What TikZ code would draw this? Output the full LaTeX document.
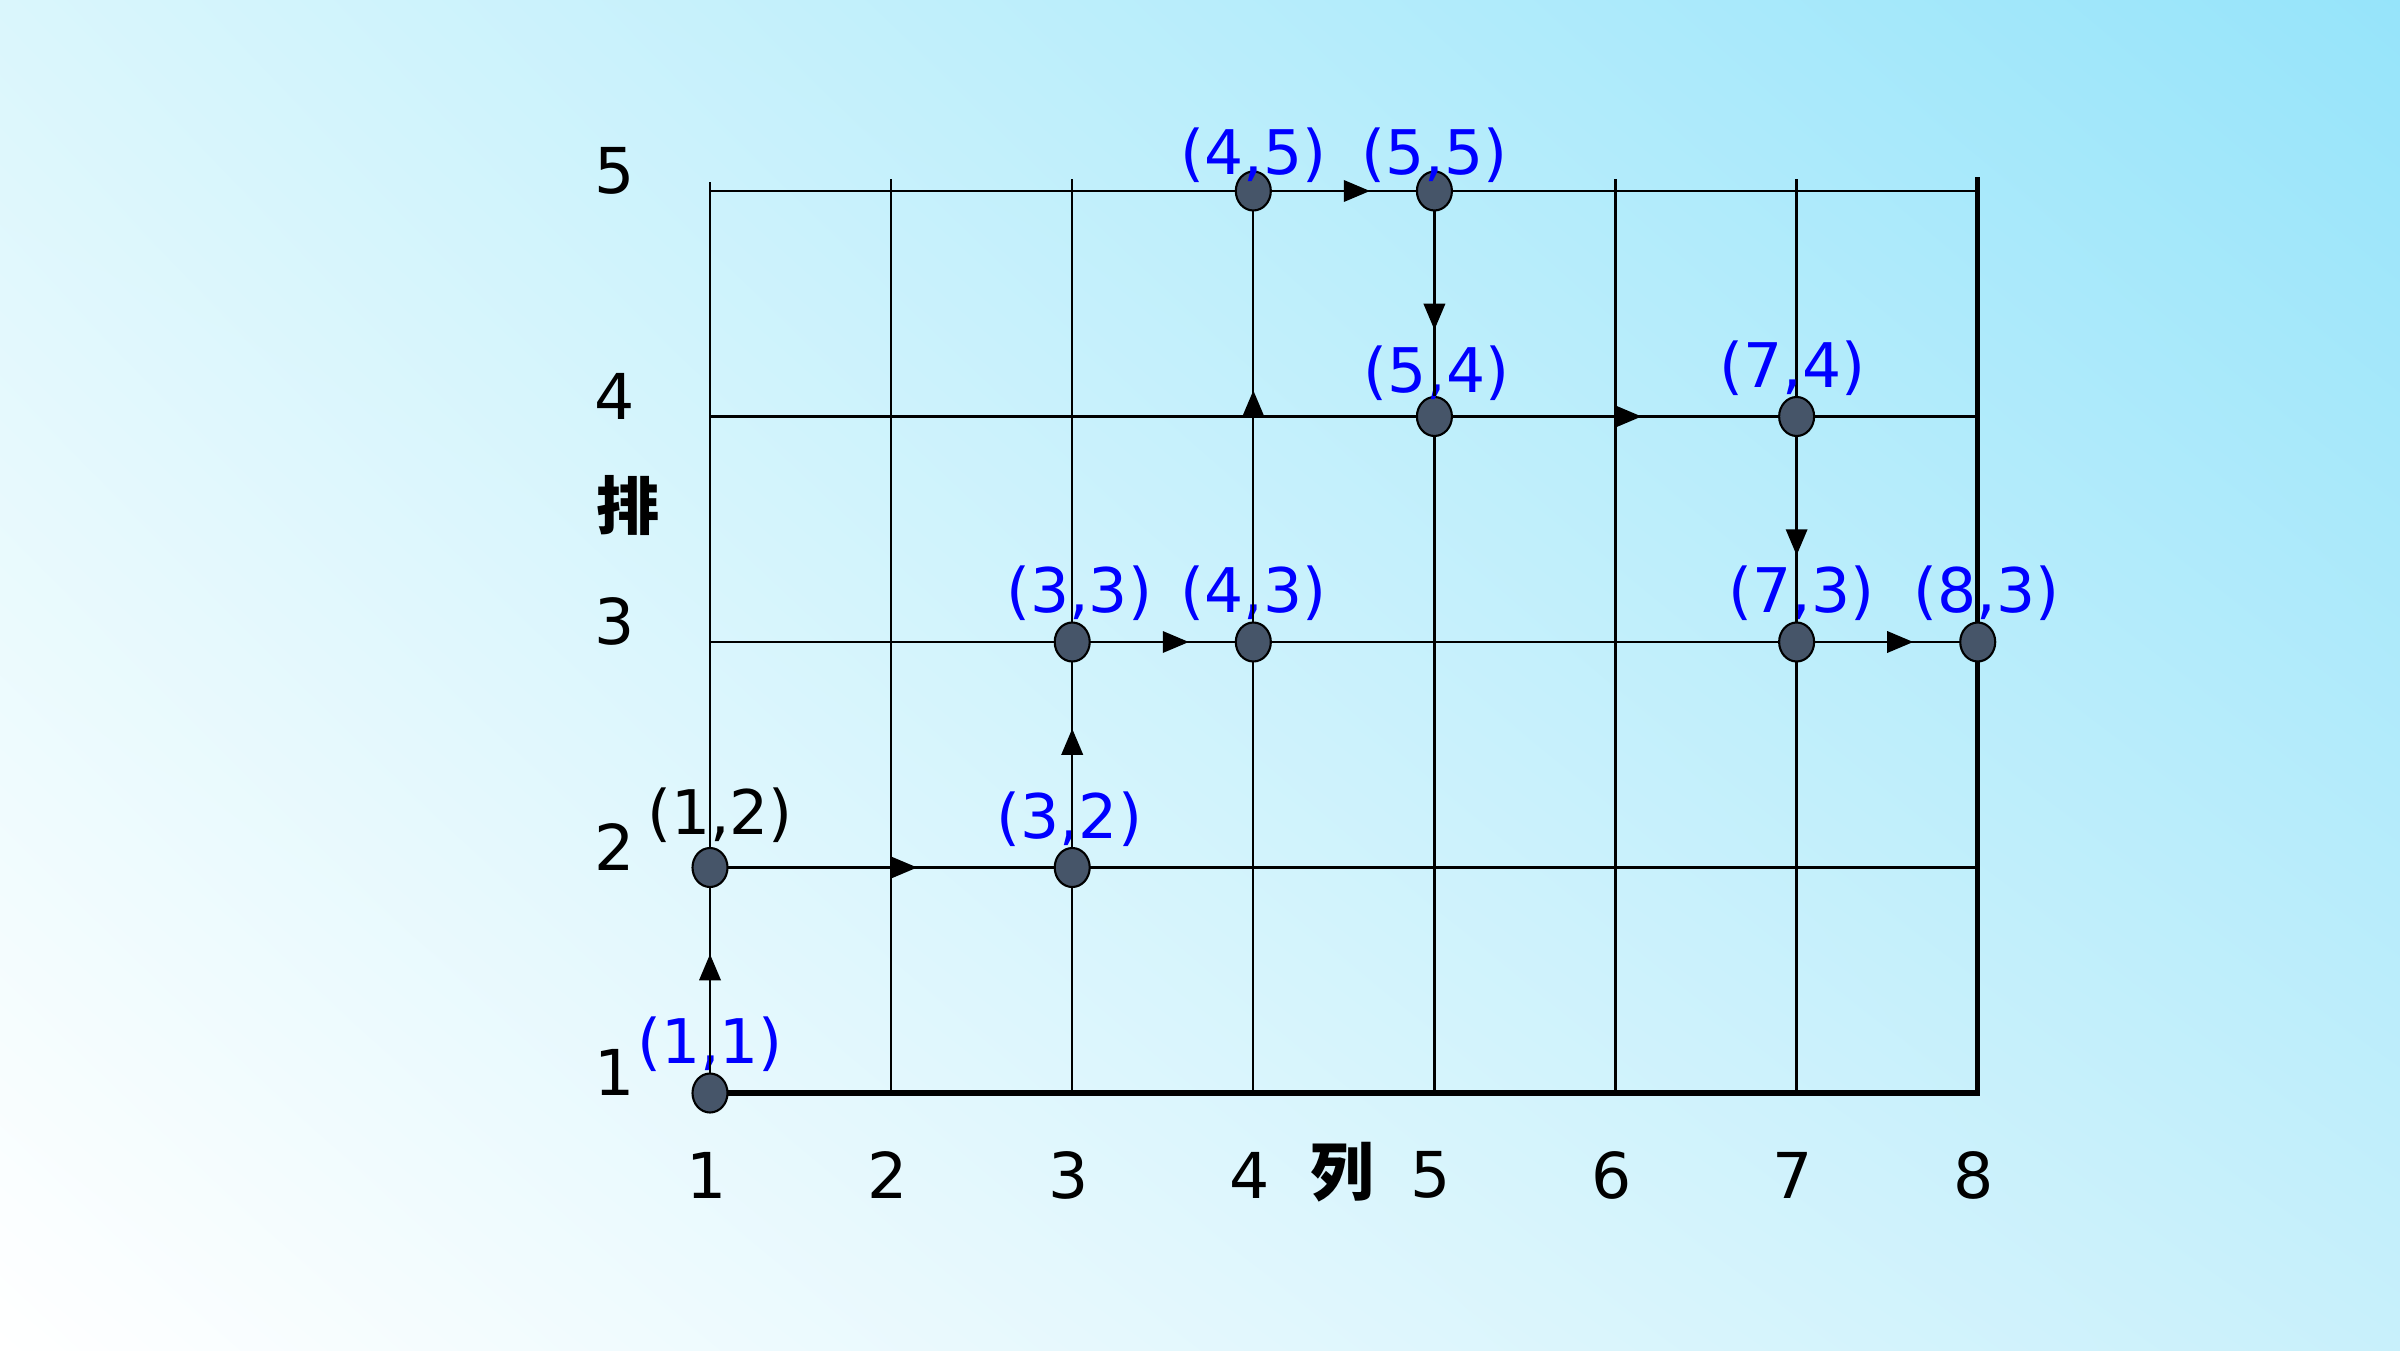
\documentclass[tikz,border=0pt]{standalone}
\usepackage{fontspec}
\setmainfont{DejaVu Sans}
\newfontfamily\cjk{Noto Sans CJK SC}
\usepackage{tikz}
\usetikzlibrary{shapes.geometric, positioning, decorations.markings, shadings}
\definecolor{dotfill}{RGB}{70,85,105}
\definecolor{lblblue}{RGB}{0,0,255}
\definecolor{bgUR}{RGB}{150,228,250}
\definecolor{bgUL}{RGB}{218,246,252}
\definecolor{bgLR}{RGB}{200,240,251}
\tikzstyle{gridline} = [line width=0.65pt, black]
\tikzstyle{frameline} = [line width=1.5pt, black]
\tikzstyle{dot} = [ellipse, draw=black, line width=0.6pt, fill=dotfill, minimum width=0.35cm, minimum height=0.39cm, inner sep=0pt]
\tikzstyle{lbl} = [text=lblblue, font=\fontsize{17.5}{20}\selectfont, inner sep=0pt]
\tikzstyle{axislbl} = [font=\fontsize{18}{20}\selectfont, inner sep=0pt]
\tikzstyle{flow} = [line width=0.65pt, postaction={decorate}, decoration={markings, mark=at position 0.5 with {\fill (0,-1.1mm) -- (2.6mm,0) -- (0,1.1mm) -- cycle;}}]

\begin{document}
\begin{tikzpicture}

% Background
\shade[upper left=bgUL, upper right=bgUR, lower left=white, lower right=bgLR] (0,0) rectangle (24,13.5);

\begin{scope}[shift={(5.289cm,0.315cm)}, x=1.811cm, y=2.255cm]

% Grid
\foreach \c in {2,...,7}
  \draw[gridline] (\c,1) -- (\c,5.053);
\draw[gridline] (1,1) -- (1,5.04);
\foreach \r in {2,...,5}
  \draw[gridline] (1,\r) -- (8,\r);
\draw[frameline] (1,1) -- (8,1) -- (8,5.06);

% Axis labels
\foreach \r in {1,...,5}
  \node (row\r) [axislbl] at (0.475,\r+0.09) {\r};
\foreach \c in {1,...,8}
  \node (col\c) [axislbl] at (\c-0.02,0.636) {\c};
\node (rowname) [axislbl] at (0.547,3.607) {\cjk\bfseries 排};
\node (colname) [axislbl] at (4.49,0.65) {\cjk\bfseries 列};

% Points of the path
\node (p11) [dot] at (1,1) {};
\node (p12) [dot] at (1,2) {};
\node (p32) [dot] at (3,2) {};
\node (p33) [dot] at (3,3) {};
\node (p43) [dot] at (4,3) {};
\node (p45) [dot] at (4,5) {};
\node (p55) [dot] at (5,5) {};
\node (p54) [dot] at (5,4) {};
\node (p74) [dot] at (7,4) {};
\node (p73) [dot] at (7,3) {};
\node (p83) [dot] at (8,3) {};

% Point labels
\node [lbl, above=0pt of p11] {(1,1)};
\node [lbl, above=1pt of p12, xshift=0.1cm, text=black] {(1,2)};
\node [lbl, above=0pt of p32, xshift=-0.03cm] {(3,2)};
\node [lbl, above=0pt of p33, xshift=0.07cm] {(3,3)};
\node [lbl, above=0pt of p43] {(4,3)};
\node [lbl, above=-0.13cm of p45] {(4,5)};
\node [lbl, above=-0.13cm of p55] {(5,5)};
\node [lbl, above=-0.05cm of p54, xshift=0.02cm] {(5,4)};
\node [lbl, above=0pt of p74, xshift=-0.04cm] {(7,4)};
\node [lbl, above=0pt of p73, xshift=0.05cm] {(7,3)};
\node [lbl, above=0pt of p83, xshift=0.09cm] {(8,3)};

% Path
\draw[flow] (p11) -- (p12);
\draw[flow] (p12) -- (p32);
\draw[flow] (p32) -- (p33);
\draw[flow] (p33) -- (p43);
\draw[flow] (p43) -- (p45);
\draw[flow] (p45) -- (p55);
\draw[flow] (p55) -- (p54);
\draw[flow] (p54) -- (p74);
\draw[flow] (p74) -- (p73);
\draw[flow] (p73) -- (p83);

\end{scope}
\end{tikzpicture}
\end{document}
